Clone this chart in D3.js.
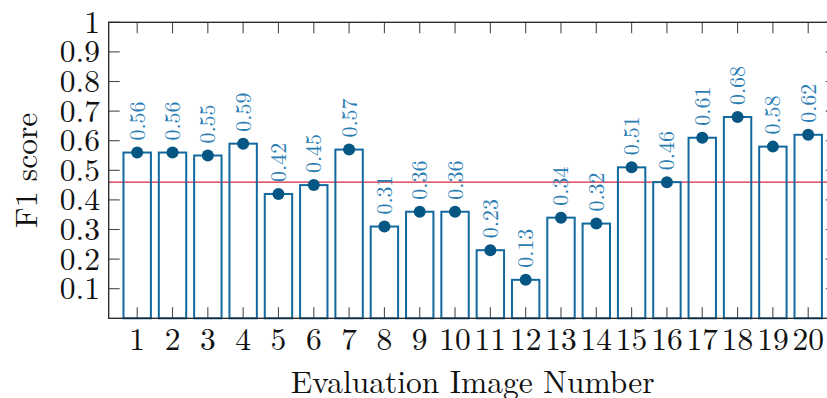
<!DOCTYPE html>
<html>
<head>
<meta charset="utf-8">
<script src="https://cdn.jsdelivr.net/npm/d3@7"></script>
<style>
  html, body { margin: 0; padding: 0; background: #fff; }
</style>
</head>
<body>
<svg id="chart" width="827" height="398"></svg>
<script>
// Evaluation images and their F1 scores
const images = d3.range(1, 21);
const f1Scores = [0.56, 0.56, 0.55, 0.59, 0.42, 0.45, 0.57, 0.31, 0.36, 0.36,
                  0.23, 0.13, 0.34, 0.32, 0.51, 0.46, 0.61, 0.68, 0.58, 0.62];
const meanF1 = 0.46;
const yTicks = [0.1, 0.2, 0.3, 0.4, 0.5, 0.6, 0.7, 0.8, 0.9, 1];
const yTickLabels = ["0.1", "0.2", "0.3", "0.4", "0.5", "0.6", "0.7", "0.8", "0.9", "1"];

const FONT = '"Latin Modern Roman", "Liberation Serif", serif';
const svg = d3.select("#chart").attr("font-family", FONT);
const plotLeft = 108.7, plotRight = 836.7, plotTop = 22.3, plotBottom = 318.3;

const x = d3.scaleLinear().domain([0.193, 20.807]).range([plotLeft, plotRight]);
const y = d3.scaleLinear().domain([0, 1]).range([plotBottom, plotTop]);
const barW = 27.4;
const tickLen = 11;

const barColor = "#12699f";
const dotColor = "#055683";
const labelColor = "#2a7db3";

// Mean reference line (drawn beneath the bar outlines)
svg.append("line")
  .attr("x1", plotLeft).attr("x2", plotRight)
  .attr("y1", y(meanF1)).attr("y2", y(meanF1))
  .attr("stroke", "#d7263d").attr("stroke-width", 1.3);

// Bars
svg.append("g").selectAll("rect").data(f1Scores).join("rect")
  .attr("x", (d, i) => x(images[i]) - barW / 2)
  .attr("width", barW)
  .attr("y", d => y(d))
  .attr("height", d => y(0) - y(d))
  .attr("fill", "none")
  .attr("stroke", barColor)
  .attr("stroke-width", 2);

// Ticks: bottom/top on x, left/right on y, all pointing inward
const tg = svg.append("g").attr("stroke", "#4a4a4a").attr("stroke-width", 1.1);
images.forEach(v => {
  tg.append("line").attr("x1", x(v)).attr("x2", x(v)).attr("y1", plotBottom).attr("y2", plotBottom - tickLen);
  tg.append("line").attr("x1", x(v)).attr("x2", x(v)).attr("y1", plotTop).attr("y2", plotTop + tickLen);
});
yTicks.forEach(v => {
  tg.append("line").attr("x1", plotLeft).attr("x2", plotLeft + tickLen).attr("y1", y(v)).attr("y2", y(v));
  tg.append("line").attr("x1", plotRight).attr("x2", plotRight - tickLen).attr("y1", y(v)).attr("y2", y(v));
});

// Frame
svg.append("rect")
  .attr("x", plotLeft).attr("y", plotTop)
  .attr("width", plotRight - plotLeft).attr("height", plotBottom - plotTop)
  .attr("fill", "none").attr("stroke", "#222").attr("stroke-width", 1.3);

// Value markers
svg.append("g").selectAll("circle").data(f1Scores).join("circle")
  .attr("cx", (d, i) => x(images[i]))
  .attr("cy", d => y(d))
  .attr("r", 6)
  .attr("fill", dotColor);

// Value labels, rotated
svg.append("g").selectAll("text").data(f1Scores).join("text")
  .attr("transform", (d, i) => `translate(${x(images[i]) + 7.5},${y(d) - 12}) rotate(-90)`)
  .attr("font-family", FONT)
  .attr("font-size", 22)
  .attr("fill", labelColor)
  .text(d => d.toFixed(2));

// Tick labels
svg.append("g").selectAll("text").data(images).join("text")
  .attr("x", d => x(d))
  .attr("y", 350)
  .attr("text-anchor", "middle")
  .attr("font-family", FONT)
  .attr("font-size", 31.5)
  .attr("fill", "#111")
  .text(d => d);

svg.append("g").selectAll("text").data(yTicks).join("text")
  .attr("x", 100)
  .attr("y", d => y(d) + 10.5)
  .attr("text-anchor", "end")
  .attr("font-family", FONT)
  .attr("font-size", 31.5)
  .attr("fill", "#111")
  .text((d, i) => yTickLabels[i]);

// Axis titles
svg.append("text")
  .attr("x", (plotLeft + plotRight) / 2)
  .attr("y", 392.5)
  .attr("text-anchor", "middle")
  .attr("font-family", FONT)
  .attr("font-size", 31.5)
  .attr("fill", "#111")
  .text("Evaluation Image Number");

svg.append("text")
  .attr("transform", `translate(37,${(plotTop + plotBottom) / 2}) rotate(-90)`)
  .attr("text-anchor", "middle")
  .attr("font-family", FONT)
  .attr("font-size", 31.5)
  .attr("fill", "#111")
  .text("F1 score");
</script>
</body>
</html>
